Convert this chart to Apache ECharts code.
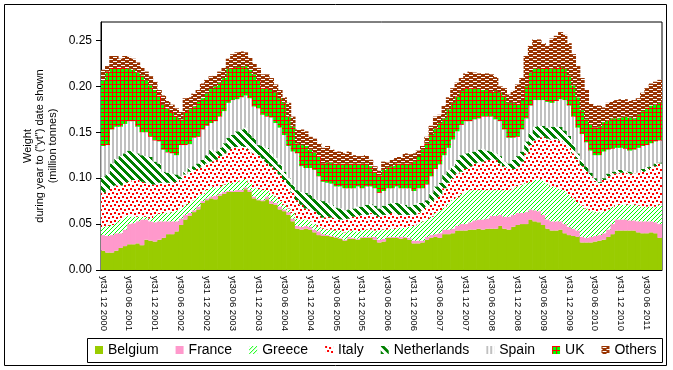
<!DOCTYPE html>
<html><head><meta charset="utf-8">
<script src="https://cdn.jsdelivr.net/npm/echarts@6/dist/echarts.min.js"></script>
<style>html,body{margin:0;padding:0;background:#fff}#c{width:673px;height:370px}</style>
</head><body><div id="c"></div>
<script>
// ---- data (million tonnes, year-to-date weight, monthly) ----
const seriesNames = ['Belgium','France','Greece','Italy','Netherlands','Spain','UK','Others'];
const belgium = [
0.021,0.019,0.019,0.021,0.024,0.026,0.028,0.028,0.029,0.027,0.033,0.032,0.031,0.033,0.035,0.039,0.039,0.042,0.049,0.055,0.059,0.063,0.066,0.073,0.076,0.078,
0.077,0.081,0.083,0.085,0.085,0.085,0.085,0.088,0.085,0.078,0.076,0.075,0.077,0.072,0.071,0.066,0.064,0.060,0.053,0.045,0.044,0.045,0.044,0.041,0.038,0.037,
0.037,0.036,0.035,0.034,0.032,0.034,0.034,0.033,0.035,0.035,0.035,0.033,0.030,0.031,0.035,0.035,0.035,0.034,0.035,0.033,0.029,0.029,0.030,0.033,0.035,0.036,
0.035,0.039,0.039,0.040,0.043,0.043,0.043,0.044,0.044,0.045,0.044,0.045,0.045,0.045,0.048,0.045,0.044,0.047,0.049,0.050,0.050,0.055,0.053,0.052,0.049,0.045,
0.043,0.043,0.044,0.040,0.038,0.037,0.036,0.030,0.030,0.030,0.031,0.032,0.033,0.036,0.039,0.043,0.043,0.043,0.043,0.043,0.041,0.040,0.040,0.041,0.040,0.035];
const france = [
0.017,0.018,0.019,0.019,0.016,0.018,0.022,0.023,0.024,0.028,0.022,0.021,0.021,0.020,0.018,0.014,0.014,0.011,0.007,0.005,0.003,0.002,0.003,0.002,0.002,0.002,
0.004,0.002,0.002,0.001,0.001,0.002,0.002,0.002,0.002,0.002,0.001,0.001,0.003,0.003,0.002,0.003,0.002,0.003,0.003,0.003,0.003,0.003,0.003,0.003,0.004,0.002,
0.001,0.001,0.001,0.001,0.001,0.002,0.001,0.001,0.001,0.001,0.001,0.003,0.003,0.003,0.001,0.001,0.001,0.002,0.001,0.002,0.003,0.003,0.002,0.003,0.003,0.003,
0.005,0.005,0.005,0.005,0.005,0.007,0.007,0.008,0.010,0.010,0.011,0.011,0.014,0.014,0.012,0.013,0.014,0.013,0.013,0.012,0.013,0.011,0.012,0.012,0.011,0.010,
0.010,0.010,0.009,0.010,0.009,0.008,0.007,0.006,0.005,0.006,0.006,0.006,0.007,0.008,0.011,0.012,0.012,0.012,0.011,0.011,0.012,0.013,0.013,0.012,0.012,0.015];
const greece = [
0.009,0.011,0.011,0.012,0.015,0.014,0.009,0.007,0.005,0.003,0.003,0.003,0.008,0.008,0.009,0.009,0.010,0.012,0.011,0.011,0.011,0.011,0.011,0.008,0.009,0.011,
0.008,0.008,0.008,0.009,0.009,0.009,0.011,0.009,0.008,0.009,0.011,0.011,0.007,0.008,0.007,0.006,0.005,0.004,0.006,0.008,0.008,0.007,0.006,0.006,0.005,0.006,
0.006,0.007,0.007,0.008,0.008,0.007,0.008,0.008,0.007,0.008,0.008,0.007,0.010,0.010,0.008,0.009,0.009,0.010,0.010,0.012,0.016,0.018,0.021,0.019,0.020,0.023,
0.025,0.024,0.028,0.031,0.031,0.033,0.035,0.035,0.033,0.032,0.032,0.031,0.028,0.028,0.027,0.029,0.029,0.029,0.029,0.031,0.032,0.030,0.033,0.035,0.037,0.039,
0.038,0.037,0.035,0.036,0.035,0.033,0.031,0.034,0.032,0.029,0.026,0.025,0.024,0.022,0.019,0.016,0.016,0.016,0.017,0.017,0.017,0.016,0.016,0.016,0.017,0.021];
const italy = [
0.037,0.039,0.042,0.040,0.037,0.037,0.037,0.040,0.040,0.038,0.037,0.037,0.033,0.034,0.033,0.033,0.032,0.031,0.032,0.033,0.034,0.033,0.031,0.030,0.029,0.027,
0.031,0.033,0.034,0.036,0.038,0.038,0.037,0.035,0.036,0.038,0.037,0.034,0.029,0.030,0.029,0.029,0.027,0.024,0.022,0.020,0.016,0.012,0.013,0.014,0.013,0.012,
0.014,0.013,0.013,0.012,0.014,0.013,0.015,0.017,0.017,0.016,0.018,0.017,0.015,0.016,0.017,0.017,0.016,0.014,0.014,0.013,0.012,0.012,0.012,0.014,0.015,0.015,
0.015,0.021,0.023,0.024,0.026,0.024,0.025,0.026,0.029,0.030,0.031,0.033,0.033,0.033,0.029,0.026,0.024,0.021,0.022,0.025,0.032,0.040,0.043,0.045,0.048,0.049,
0.051,0.053,0.053,0.052,0.051,0.049,0.047,0.043,0.040,0.037,0.034,0.032,0.034,0.036,0.036,0.034,0.035,0.035,0.034,0.034,0.036,0.038,0.039,0.042,0.044,0.045];
const netherlands = [
0.018,0.018,0.025,0.029,0.032,0.032,0.034,0.031,0.029,0.029,0.029,0.030,0.025,0.021,0.012,0.011,0.010,0.008,0.003,0.003,0.004,0.004,0.005,0.007,0.009,0.013,
0.009,0.009,0.011,0.013,0.014,0.017,0.018,0.021,0.018,0.017,0.011,0.014,0.017,0.014,0.013,0.011,0.009,0.009,0.009,0.011,0.014,0.017,0.016,0.014,0.016,0.018,
0.015,0.014,0.012,0.012,0.010,0.010,0.009,0.010,0.009,0.011,0.010,0.010,0.009,0.010,0.011,0.011,0.012,0.012,0.011,0.009,0.011,0.011,0.008,0.007,0.011,0.014,
0.015,0.015,0.014,0.013,0.015,0.018,0.017,0.015,0.013,0.014,0.014,0.010,0.009,0.007,0.008,0.005,0.005,0.010,0.011,0.011,0.013,0.013,0.015,0.013,0.012,0.012,
0.014,0.013,0.015,0.014,0.013,0.010,0.006,0.007,0.006,0.004,0.003,0.001,0.002,0.003,0.002,0.004,0.003,0.002,0.002,0.001,0.000,0.003,0.004,0.002,0.003,0.001];
const spain = [
0.033,0.031,0.037,0.035,0.032,0.032,0.032,0.033,0.029,0.025,0.026,0.022,0.023,0.024,0.024,0.022,0.022,0.021,0.034,0.029,0.026,0.031,0.029,0.033,0.032,0.029,
0.033,0.034,0.035,0.038,0.038,0.035,0.035,0.035,0.038,0.034,0.040,0.034,0.034,0.039,0.038,0.040,0.040,0.035,0.036,0.040,0.028,0.027,0.029,0.031,0.026,0.021,
0.022,0.023,0.023,0.024,0.024,0.023,0.022,0.022,0.020,0.020,0.019,0.019,0.017,0.016,0.017,0.016,0.018,0.017,0.018,0.020,0.015,0.016,0.016,0.017,0.018,0.019,
0.020,0.021,0.024,0.029,0.031,0.033,0.035,0.034,0.035,0.034,0.035,0.037,0.038,0.037,0.038,0.035,0.028,0.024,0.021,0.024,0.025,0.030,0.029,0.028,0.028,0.028,
0.026,0.028,0.030,0.033,0.033,0.030,0.028,0.028,0.026,0.024,0.025,0.029,0.029,0.026,0.025,0.024,0.024,0.024,0.023,0.025,0.027,0.025,0.024,0.025,0.024,0.024];
const uk = [
0.071,0.080,0.067,0.064,0.064,0.061,0.057,0.056,0.059,0.062,0.056,0.056,0.055,0.050,0.049,0.048,0.045,0.043,0.028,0.036,0.038,0.034,0.038,0.034,0.035,0.037,
0.038,0.037,0.036,0.037,0.035,0.035,0.033,0.032,0.031,0.035,0.031,0.029,0.031,0.030,0.033,0.032,0.035,0.032,0.027,0.011,0.023,0.024,0.020,0.019,0.022,0.020,
0.022,0.023,0.025,0.025,0.027,0.027,0.027,0.025,0.027,0.025,0.022,0.018,0.019,0.023,0.023,0.024,0.025,0.027,0.027,0.027,0.032,0.034,0.042,0.045,0.045,0.044,
0.045,0.040,0.042,0.040,0.038,0.037,0.036,0.036,0.034,0.032,0.029,0.029,0.027,0.031,0.031,0.037,0.038,0.038,0.036,0.031,0.035,0.036,0.034,0.034,0.035,0.037,
0.037,0.036,0.035,0.034,0.033,0.034,0.033,0.026,0.025,0.028,0.030,0.031,0.032,0.032,0.033,0.032,0.033,0.035,0.036,0.034,0.036,0.038,0.041,0.041,0.040,0.041];
const others = [
0.012,0.006,0.013,0.013,0.010,0.013,0.013,0.012,0.011,0.009,0.010,0.010,0.009,0.006,0.010,0.008,0.008,0.008,0.008,0.015,0.013,0.014,0.013,0.016,0.015,0.014,
0.012,0.012,0.011,0.011,0.015,0.016,0.017,0.015,0.013,0.012,0.013,0.015,0.015,0.013,0.009,0.009,0.006,0.015,0.011,0.015,0.017,0.016,0.014,0.015,0.014,0.017,
0.018,0.014,0.013,0.013,0.011,0.013,0.009,0.008,0.008,0.009,0.007,0.006,0.005,0.009,0.005,0.007,0.007,0.007,0.011,0.010,0.009,0.007,0.004,0.007,0.010,0.013,
0.009,0.014,0.013,0.016,0.015,0.014,0.016,0.018,0.017,0.017,0.018,0.018,0.019,0.015,0.007,0.008,0.009,0.013,0.021,0.025,0.033,0.029,0.032,0.032,0.027,0.024,
0.033,0.035,0.038,0.037,0.035,0.034,0.034,0.035,0.032,0.023,0.024,0.023,0.016,0.019,0.019,0.020,0.020,0.019,0.018,0.020,0.018,0.020,0.021,0.024,0.025,0.025];
const yTicks = [0, 0.05, 0.10, 0.15, 0.20, 0.25];
const monthEndDays = ['31','28','31','30','31','30','31','31','30','31','30','31'];
function monthEndLabels(startYear, startMonth, count) {
  const out = [];
  let y = startYear, m = startMonth;
  for (let k = 0; k < count; k++) {
    let d = monthEndDays[m - 1];
    if (m === 2 && y % 4 === 0) d = '29';
    out.push('yt' + d + ' ' + (m < 10 ? '0' + m : '' + m) + ' ' + y);
    m++; if (m > 12) { m = 1; y++; }
  }
  return out;
}
const categories = monthEndLabels(2000, 12, 130);

// ---- fill patterns (Excel-like) ----
function pat(w, h, bg, fg, test) {
  const c = document.createElement('canvas'); c.width = w; c.height = h;
  const g = c.getContext('2d'); g.fillStyle = bg; g.fillRect(0, 0, w, h); g.fillStyle = fg;
  for (let y = 0; y < h; y++) for (let x = 0; x < w; x++) if (test(x, y)) g.fillRect(x, y, 1, 1);
  return { image: c, repeat: 'repeat' };
}
const italySq = [[0,0],[4,1],[2,4],[6,5]];
const fills = [
  '#99CC00',
  '#FF99CC',
  pat(4, 4, '#ffffff', '#00FF00', (x, y) => (x + y) % 4 === 3),
  pat(8, 8, '#ffffff', '#FF0000', (x, y) => italySq.some(([a, b]) => (x === a || x === a + 1) && (y === b || y === b + 1))),
  pat(8, 8, '#ffffff', '#008000', (x, y) => (((x - y) % 8) + 8) % 8 < 4),
  pat(4, 1, '#ffffff', '#C0C0C0', (x, y) => x < 2),
  pat(4, 4, '#00FF00', '#FF0000', (x, y) => x === 0 || y === 0),
  pat(8, 4, '#993300', '#ffffff', (x, y) => (y === 1 && x >= 1 && x <= 4) || (y === 3 && (x >= 5 || x === 0)))
];
const values = [belgium, france, greece, italy, netherlands, spain, uk, others];
const FONT = '"Liberation Sans", Arial, sans-serif';

const chart = echarts.init(document.getElementById('c'), null, { renderer: 'canvas' });
chart.setOption({
  animation: false,
  backgroundColor: '#ffffff',
  grid: { left: 101, right: 11, top: 22, bottom: 100, show: true, borderColor: '#000', borderWidth: 1, backgroundColor: 'transparent' },
  legend: {
    data: seriesNames, left: 95, top: 343, itemWidth: 8, itemHeight: 8, itemGap: 17, icon: 'rect', padding: 0,
    textStyle: { fontSize: 14, fontFamily: FONT, color: '#000' }, selectedMode: false
  },
  xAxis: {
    type: 'category', data: categories, boundaryGap: true,
    axisLine: { lineStyle: { color: '#000', width: 1 } },
    axisTick: { interval: 0, length: 3, lineStyle: { color: '#000' } },
    axisLabel: { interval: 5, rotate: -90, fontSize: 9.5, fontFamily: FONT, color: '#000', margin: 6 }
  },
  yAxis: {
    type: 'value', min: 0, max: 0.27, interval: 0.05,
    splitLine: { show: false },
    axisLine: { show: true, lineStyle: { color: '#000' } },
    axisTick: { show: true, length: 5, customValues: yTicks, lineStyle: { color: '#000' } },
    axisLabel: { customValues: yTicks, formatter: v => v.toFixed(2), fontSize: 12, fontFamily: FONT, color: '#000', margin: 9 }
  },
  series: seriesNames.map((n, k) => ({
    name: n, type: 'bar', stack: 'total', data: values[k], barWidth: 5, barCategoryGap: '0%',
    itemStyle: { color: fills[k] }, emphasis: { disabled: true }, silent: true
  })),
  graphic: [
    { type: 'rect', shape: { x: 4.5, y: 4.5, width: 662, height: 361 }, style: { fill: 'none', stroke: '#000', lineWidth: 1 }, silent: true, z: 100 },
    { type: 'rect', shape: { x: 87.5, y: 338.5, width: 575, height: 24 }, style: { fill: 'none', stroke: '#000', lineWidth: 1 }, silent: true, z: 100 },
    { type: 'text', x: 40, y: 146, rotation: Math.PI / 2, silent: true,
      style: { text: 'Weight\nduring year to ("yt") date shown\n(million tonnes)', align: 'center', verticalAlign: 'middle',
               fontSize: 11, fontFamily: FONT, fill: '#000', lineHeight: 12.5 } }
  ]
});
</script>
</body></html>
